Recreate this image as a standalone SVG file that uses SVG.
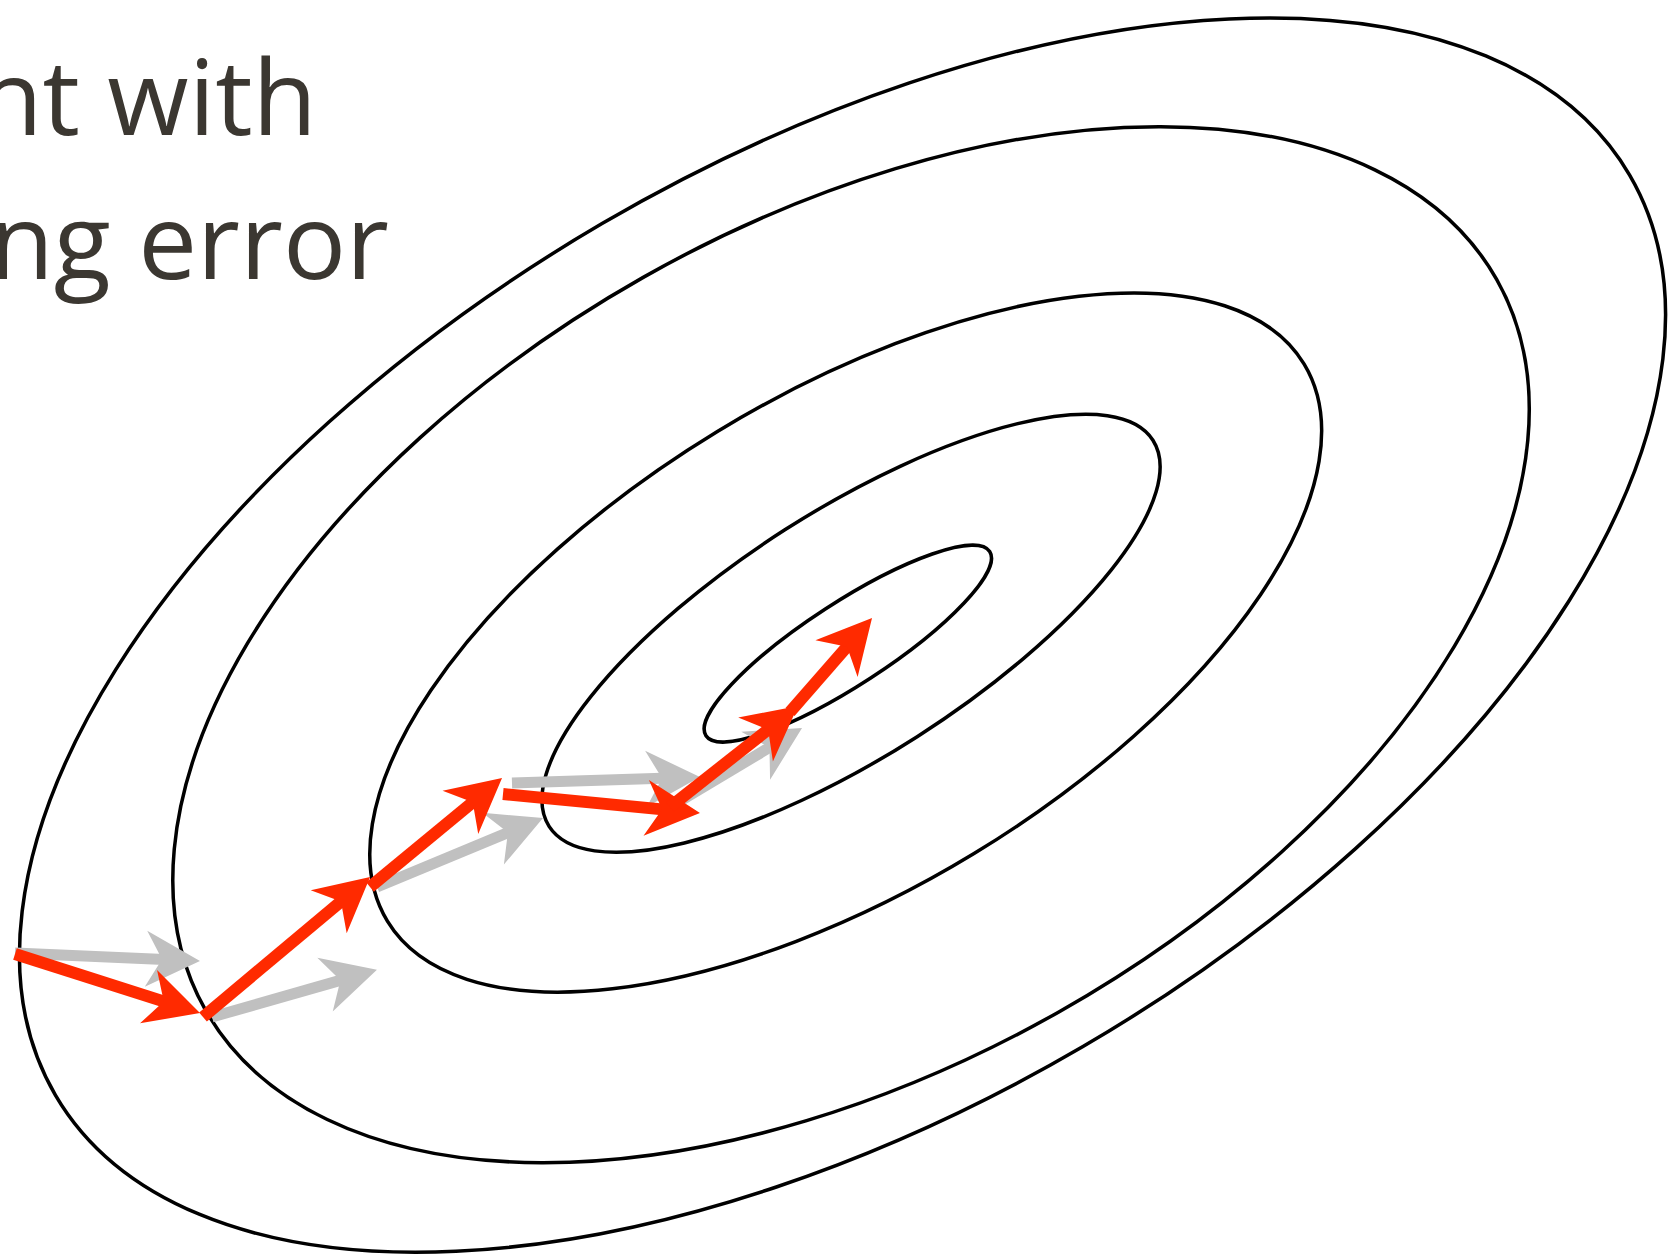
<svg xmlns="http://www.w3.org/2000/svg" width="1668" height="1256" viewBox="0 0 1668 1256">
<style>
.contour{fill:none;stroke:#000;stroke-width:3.3}
.title{font-family:"Open Sans","Liberation Sans",sans-serif;font-size:105px;fill:#3B3731;text-anchor:end}
.gshaft{stroke:#C0C0C0;stroke-width:11;fill:none;marker-end:url(#headGray)}
.rshaft{stroke:#FF2A00;stroke-width:12;fill:none;marker-end:url(#headRed)}
</style>
<defs>
<marker id="headGray" markerUnits="userSpaceOnUse" orient="auto" refX="0" refY="0" markerWidth="80" markerHeight="80" overflow="visible">
<path d="M30,0 L-24,-28 L-8,0 L-24,28 Z" fill="#C0C0C0"/>
</marker>
<marker id="headRed" markerUnits="userSpaceOnUse" orient="auto" refX="0" refY="0" markerWidth="80" markerHeight="80" overflow="visible">
<path d="M30,0 L-24,-28 L-8,0 L-24,28 Z" fill="#FF2A00"/>
</marker>
</defs>
<rect width="1668" height="1256" fill="#fff"/>
<g id="title">
<text class="title" x="317" y="135">nt with</text>
<text class="title" x="389" y="279">ng error</text>
</g>
<g id="contours" transform="scale(1.06378)">
<ellipse id="c1" class="contour" cx="792" cy="597" rx="857" ry="448" transform="rotate(-30.3 792 597)"/>
<ellipse id="c2" class="contour" cx="800" cy="606" rx="697.3" ry="396.7" transform="rotate(-29.5 800 606)"/>
<ellipse id="c3" class="contour" cx="795" cy="604" rx="504.2" ry="232.2" transform="rotate(-31.3 795 604)"/>
<ellipse id="c4" class="contour" cx="800" cy="595.3" rx="336.9" ry="115.4" transform="rotate(-32.6 800 595.3)"/>
<ellipse id="c5" class="contour" cx="797" cy="605" rx="159" ry="38.8" transform="rotate(-33 797 605)"/>
</g>
<g id="gray-steps">
<line class="gshaft" x1="15" y1="953" x2="170" y2="959.7"/>
<line class="gshaft" x1="212" y1="1017" x2="348.1" y2="978.1"/>
<line class="gshaft" x1="377" y1="887" x2="515.3" y2="829.5"/>
<line class="gshaft" x1="512" y1="783" x2="670" y2="778"/>
<line class="gshaft" x1="670" y1="807" x2="776.3" y2="743.4"/>
</g>
<g id="red-steps">
<line class="rshaft" x1="15" y1="954" x2="171.4" y2="1003.9"/>
<line class="rshaft" x1="203" y1="1017" x2="347.1" y2="896.3"/>
<line class="rshaft" x1="370" y1="887" x2="478.9" y2="797.1"/>
<line class="rshaft" x1="503" y1="794" x2="670.1" y2="810.1"/>
<line class="rshaft" x1="670" y1="807" x2="774.4" y2="724.6"/>
<line class="rshaft" x1="790" y1="712" x2="852.3" y2="640.6"/>
</g>
</svg>
